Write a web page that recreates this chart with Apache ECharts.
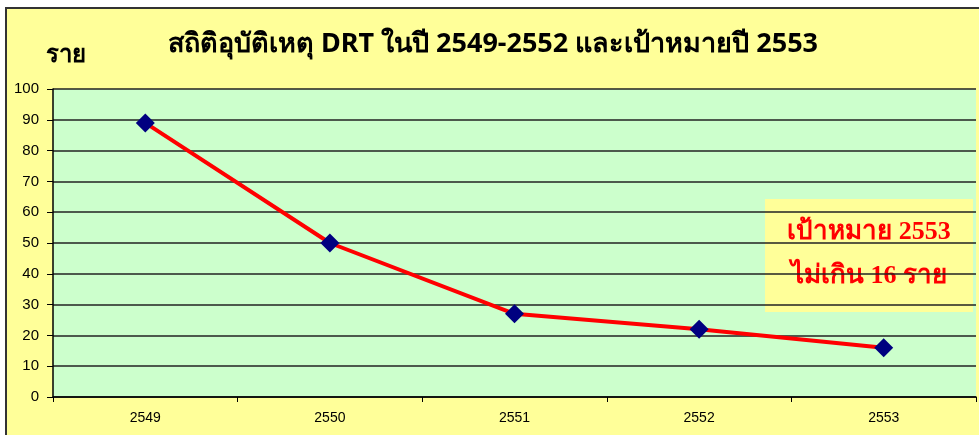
<!DOCTYPE html>
<html>
<head>
<meta charset="utf-8">
<script src="https://cdn.jsdelivr.net/npm/echarts@6/dist/echarts.min.js"></script>
<style>
  body { margin: 0; background: #fff; }
  #wrap {
    position: absolute; left: 5px; top: 7px; width: 974px; height: 428px;
    border-top: 2px solid #333; border-left: 2px solid #333;
    background: #FFFF99;
  }
  #main { width: 972px; height: 426px; }
</style>
</head>
<body>
<div id="wrap"><div id="main"></div></div>
<script>
var years = ['2549', '2550', '2551', '2552', '2553'];
var accidents = [89, 50, 27, 22, 16];
var yTicks = { min: 0, max: 100, interval: 10 };

(function () {
  var myChart = echarts.init(document.getElementById('main'));
  var option = {
    backgroundColor: '#FFFF99',
    title: [{
      text: 'สถิติอุบัติเหตุ DRT ในปี 2549-2552 และเป้าหมายปี 2553',
      left: 'center',
      top: 17,
      textStyle: { fontSize: 27, fontWeight: 'bold', color: '#000', fontFamily: 'Noto Sans, sans-serif' }
    }, {
      text: 'ราย',
      left: 34,
      top: 29,
      textStyle: { fontSize: 24, fontWeight: 'bold', color: '#000', fontFamily: 'Noto Sans, sans-serif' }
    }],
    grid: {
      left: 46,
      right: 3,
      top: 80,
      bottom: 38,
      show: true,
      backgroundColor: '#CCFFCC',
      borderWidth: 0
    },
    xAxis: {
      type: 'category',
      data: years,
      boundaryGap: true,
      axisLine: { lineStyle: { color: '#000', width: 1.5 } },
      axisTick: { show: true, length: 5, lineStyle: { color: '#000' } },
      axisLabel: { color: '#000', fontSize: 14, margin: 14, fontFamily: 'Liberation Sans, Arial, sans-serif' }
    },
    yAxis: {
      type: 'value',
      min: yTicks.min,
      max: yTicks.max,
      interval: yTicks.interval,
      axisLine: { show: true, lineStyle: { color: '#000', width: 1.5 } },
      axisTick: { show: true, length: 6, lineStyle: { color: '#000' } },
      axisLabel: { color: '#000', fontSize: 15, margin: 14, fontFamily: 'Liberation Sans, Arial, sans-serif' },
      splitLine: { lineStyle: { color: '#222', width: 1.5 } }
    },
    series: [{
      type: 'line',
      data: accidents,
      symbol: 'diamond',
      symbolSize: 19,
      itemStyle: { color: '#000080' },
      lineStyle: { color: '#FF0000', width: 4 },
      z: 3
    }],
    graphic: [{
      type: 'group',
      right: 6,
      top: 190,
      children: [{
        type: 'rect',
        shape: { x: 0, y: 0, width: 208, height: 113 },
        style: { fill: '#FFFF99' }
      }, {
        type: 'text',
        x: 104,
        y: 33,
        style: {
          text: 'เป้าหมาย 2553',
          align: 'center', verticalAlign: 'middle',
          fill: '#FF0000', fontSize: 26, fontWeight: 'bold', fontFamily: 'serif'
        }
      }, {
        type: 'text',
        x: 104,
        y: 77,
        style: {
          text: 'ไม่เกิน 16 ราย',
          align: 'center', verticalAlign: 'middle',
          fill: '#FF0000', fontSize: 26, fontWeight: 'bold', fontFamily: 'serif'
        }
      }]
    }]
  };
  myChart.setOption(option);
  window.addEventListener('resize', function () {
    myChart.resize();
  });
})();
</script>
</body>
</html>
